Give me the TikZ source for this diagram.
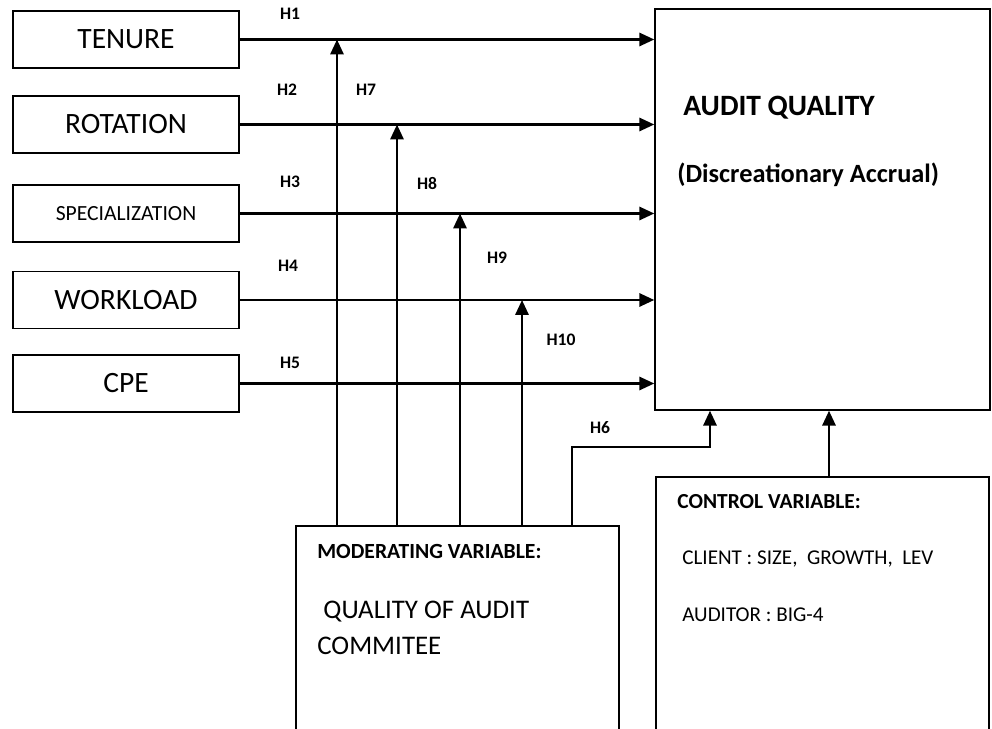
\documentclass[tikz,border=0pt]{standalone}
\usepackage{fontspec}
\setmainfont{Carlito}
\usetikzlibrary{arrows.meta}

\begin{document}
\begin{tikzpicture}[x=0.02cm,y=-0.02cm]
\tikzstyle{var}=[draw,line width=0.85pt,minimum width=4.52cm,minimum height=1.14cm,inner sep=0pt,font=\fontsize{16.8}{20}\selectfont]
\tikzstyle{bigbox}=[draw,line width=0.85pt,inner sep=0pt]
\tikzstyle{txt}=[anchor=west,inner sep=0pt]
\tikzstyle{hyp}=[font=\bfseries\fontsize{10}{11}\selectfont]
\tikzstyle{arr}=[line width=1.4pt,-{Triangle[length=8.5pt,width=7.5pt]}]
\useasboundingbox (0,0) rectangle (992,729);
% independent variables
\node [var] (tenure) at (126,39.5) {TENURE};
\node [var] (rotation) at (126,124.5) {ROTATION};
\node [var,font=\fontsize{12.3}{14}\selectfont] (spec) at (126,213.5) {SPECIALIZATION};
\node [var] (work) at (126,300) {WORKLOAD};
\node [var] (cpe) at (126,383.5) {CPE};
% dependent variable
\node [bigbox,minimum width=6.7cm,minimum height=8.02cm] (quality) at (822.5,209.5) {};
\node [txt,font=\bfseries\fontsize{16.8}{20}\selectfont] (qtitle) at (683,108) {AUDIT QUALITY};
\node [txt,font=\bfseries\fontsize{15}{18}\selectfont] (qsub) at (677,175) {(Discreationary Accrual)};
% moderating and control boxes
\node [bigbox,minimum width=6.46cm,minimum height=4.5cm] (mod) at (457.5,638.5) {};
\node [txt,font=\bfseries\fontsize{12.3}{14}\selectfont] (modt) at (317,551) {MODERATING VARIABLE:};
\node [anchor=north west,align=left,inner sep=0pt,font=\fontsize{15.3}{20.5}\selectfont] (modq) at (317,601) {\ QUALITY OF AUDIT\\COMMITEE};
\node [bigbox,minimum width=6.66cm,minimum height=5.5cm] (control) at (822.5,614.5) {};
\node [txt,font=\bfseries\fontsize{12.2}{14}\selectfont] (ctrlt) at (677,502) {CONTROL VARIABLE:};
\node [txt,font=\fontsize{12}{14}\selectfont] (client) at (682,559) {CLIENT : SIZE,\ \ GROWTH,\ \ LEV};
\node [txt,font=\fontsize{12}{14}\selectfont] (auditor) at (682,615) {AUDITOR : BIG-4};
% direct effects
\foreach \v in {tenure,rotation,spec,work,cpe}
    \draw[arr] (\v.east) -- (\v.east -| quality.west);
% moderating effects
\foreach \x/\v in {337/tenure,397/rotation,460/spec,522/work}
    \draw[arr] (\x,0 |- mod.north) -- (\x,0 |- \v.east);
\coordinate (m6) at (572,526);
\coordinate (bend6) at (572,447);
\coordinate (q6) at (710,410);
\draw[arr] (m6 |- mod.north) -- (bend6) -| (q6 |- quality.south);
\draw[arr] ([xshift=3.7pt]control.north) -- ([xshift=3.7pt]control.north |- quality.south);
% hypothesis labels
\node [hyp] (h1) at (290,14) {H1};
\node [hyp] (h2) at (287,90) {H2};
\node [hyp] (h7) at (366,90) {H7};
\node [hyp] (h3) at (290,182) {H3};
\node [hyp] (h8) at (427,184) {H8};
\node [hyp] (h4) at (288,266) {H4};
\node [hyp] (h9) at (497,258) {H9};
\node [hyp] (h5) at (290,363) {H5};
\node [hyp] (h10) at (561,340) {H10};
\node [hyp] (h6) at (600,428) {H6};
\end{tikzpicture}
\end{document}
